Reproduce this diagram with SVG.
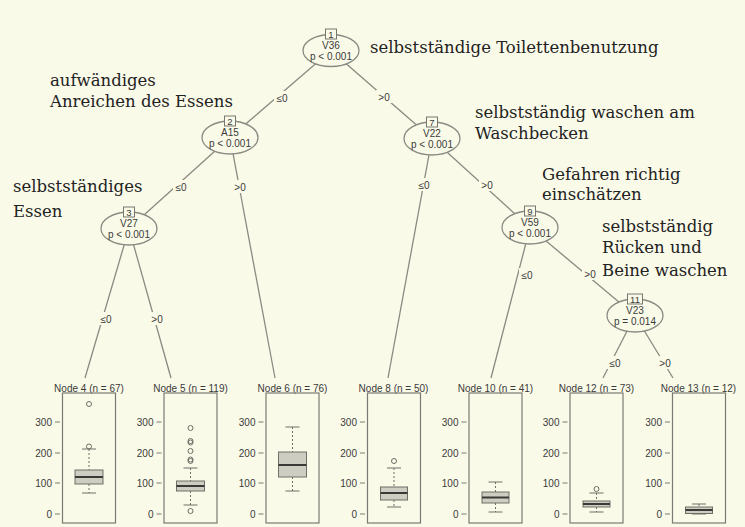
<svg xmlns="http://www.w3.org/2000/svg" width="745" height="527" viewBox="0 0 745 527">
<style>
.bg{fill:#fafae9}
.edge{stroke:#8a8a82;stroke-width:1.3;fill:none}
.ell{fill:#fafae9;stroke:#8a8a82;stroke-width:1.3}
.idb{fill:#fafae9;stroke:#777770;stroke-width:1}
.t{font-family:"Liberation Sans",Arial,sans-serif;font-size:10px;fill:#3a3a3a;text-anchor:middle}
.tn{font-family:"Liberation Sans",Arial,sans-serif;font-size:9.5px;fill:#3a3a3a;text-anchor:middle}
.ax{font-family:"Liberation Sans",Arial,sans-serif;font-size:10px;fill:#3a3a3a;text-anchor:end}
.lbl{fill:#fafae9}
.ann{font-family:"DejaVu Serif",serif;font-size:16.5px;fill:#222222}
.panel{fill:none;stroke:#7a7a72;stroke-width:1.2}
.tick{stroke:#7a7a72;stroke-width:1}
.box{fill:#cdcdc2;stroke:#6e6e66;stroke-width:1}
.med{stroke:#3a3a36;stroke-width:2}
.wh{stroke:#6e6e66;stroke-width:1;stroke-dasharray:2,2}
.cap{stroke:#6e6e66;stroke-width:1}
.out{fill:none;stroke:#6e6e66;stroke-width:1}
</style>
<rect class="bg" x="0" y="0" width="745" height="527"/>

<g id="connectors">
<line class="edge" x1="331" y1="50.5" x2="230" y2="137.5"/>
<line class="edge" x1="331" y1="50.5" x2="432" y2="138.5"/>
<line class="edge" x1="230" y1="137.5" x2="129" y2="228.5"/>
<line class="edge" x1="230" y1="137.5" x2="275" y2="378"/>
<line class="edge" x1="129" y1="228.5" x2="85" y2="378"/>
<line class="edge" x1="129" y1="228.5" x2="171" y2="378"/>
<line class="edge" x1="432" y1="138.5" x2="388" y2="378"/>
<line class="edge" x1="432" y1="138.5" x2="530" y2="227.5"/>
<line class="edge" x1="530" y1="227.5" x2="491" y2="378"/>
<line class="edge" x1="530" y1="227.5" x2="635" y2="315.5"/>
<line class="edge" x1="635" y1="315.5" x2="603" y2="378"/>
<line class="edge" x1="635" y1="315.5" x2="673" y2="378"/>
<g id="edge-labels">
<rect class="lbl" x="274" y="91" width="16" height="13"/><text class="t" x="282" y="101.5">≤0</text>
<rect class="lbl" x="376" y="90" width="16" height="13"/><text class="t" x="384" y="100.5">&gt;0</text>
<rect class="lbl" x="173" y="180" width="16" height="13"/><text class="t" x="181" y="190.5">≤0</text>
<rect class="lbl" x="232" y="180" width="16" height="13"/><text class="t" x="240" y="190.5">&gt;0</text>
<rect class="lbl" x="98" y="312" width="16" height="13"/><text class="t" x="106" y="322.5">≤0</text>
<rect class="lbl" x="149" y="312" width="16" height="13"/><text class="t" x="157" y="322.5">&gt;0</text>
<rect class="lbl" x="416" y="178" width="16" height="13"/><text class="t" x="424" y="188.5">≤0</text>
<rect class="lbl" x="479" y="178" width="16" height="13"/><text class="t" x="487" y="188.5">&gt;0</text>
<rect class="lbl" x="519" y="268" width="16" height="13"/><text class="t" x="527" y="278.5">≤0</text>
<rect class="lbl" x="582" y="267" width="16" height="13"/><text class="t" x="590" y="277.5">&gt;0</text>
<rect class="lbl" x="607" y="356" width="16" height="13"/><text class="t" x="615" y="366.5">≤0</text>
<rect class="lbl" x="657" y="356" width="16" height="13"/><text class="t" x="665" y="366.5">&gt;0</text>
</g>
</g>

<g id="node1">
<ellipse class="ell" cx="331" cy="50.5" rx="28" ry="16"/>
<rect class="idb" x="325.5" y="29" width="11" height="10"/>
<text class="tn" x="331" y="37.5">1</text>
<text class="t" x="331" y="49">V36</text>
<text class="t" x="331" y="60">p &lt; 0.001</text>
</g>
<g id="node2">
<ellipse class="ell" cx="230" cy="137.5" rx="28" ry="16.5"/>
<rect class="idb" x="224.5" y="116" width="11" height="10"/>
<text class="tn" x="230" y="124.5">2</text>
<text class="t" x="230" y="136">A15</text>
<text class="t" x="230" y="147">p &lt; 0.001</text>
</g>
<g id="node3">
<ellipse class="ell" cx="129" cy="228.5" rx="28" ry="16.5"/>
<rect class="idb" x="123.5" y="207" width="11" height="10"/>
<text class="tn" x="129" y="215.5">3</text>
<text class="t" x="129" y="227">V27</text>
<text class="t" x="129" y="238">p &lt; 0.001</text>
</g>
<g id="node7">
<ellipse class="ell" cx="432" cy="138.5" rx="28" ry="16.5"/>
<rect class="idb" x="426.5" y="117" width="11" height="10"/>
<text class="tn" x="432" y="125.5">7</text>
<text class="t" x="432" y="137">V22</text>
<text class="t" x="432" y="148">p &lt; 0.001</text>
</g>
<g id="node9">
<ellipse class="ell" cx="530" cy="227.5" rx="28" ry="16.5"/>
<rect class="idb" x="524.5" y="206" width="11" height="10"/>
<text class="tn" x="530" y="214.5">9</text>
<text class="t" x="530" y="226">V59</text>
<text class="t" x="530" y="237">p &lt; 0.001</text>
</g>
<g id="node11">
<ellipse class="ell" cx="635" cy="315.5" rx="28" ry="16.5"/>
<rect class="idb" x="627.5" y="294" width="15" height="10"/>
<text class="tn" x="635" y="302.5">11</text>
<text class="t" x="635" y="314">V23</text>
<text class="t" x="635" y="325">p = 0.014</text>
</g>

<g id="node4">
<text class="t" x="89" y="391.5">Node 4 (n = 67)</text>
<rect class="panel" x="62.5" y="393" width="53" height="130"/>
<g class="tick"><line x1="55" y1="422" x2="60" y2="422"/><line x1="55" y1="453" x2="60" y2="453"/><line x1="55" y1="483" x2="60" y2="483"/><line x1="55" y1="514" x2="60" y2="514"/></g>
<text class="ax" x="52" y="425.5">300</text><text class="ax" x="52" y="456.5">200</text><text class="ax" x="52" y="486.5">100</text><text class="ax" x="52" y="517.5">0</text>
<line class="wh" x1="89" y1="449" x2="89" y2="470"/><line class="wh" x1="89" y1="484" x2="89" y2="493"/>
<line class="cap" x1="82" y1="449" x2="96" y2="449"/><line class="cap" x1="82" y1="493" x2="96" y2="493"/>
<rect class="box" x="75" y="470" width="28" height="14"/><line class="med" x1="75" y1="477" x2="103" y2="477"/>
<circle class="out" cx="89" cy="404" r="2.5"/><circle class="out" cx="89" cy="446.5" r="2.5"/>
</g>
<g id="node5">
<text class="t" x="190.5" y="391.5">Node 5 (n = 119)</text>
<rect class="panel" x="164" y="393" width="53" height="130"/>
<g class="tick"><line x1="156.5" y1="422" x2="161.5" y2="422"/><line x1="156.5" y1="453" x2="161.5" y2="453"/><line x1="156.5" y1="483" x2="161.5" y2="483"/><line x1="156.5" y1="514" x2="161.5" y2="514"/></g>
<text class="ax" x="153.5" y="425.5">300</text><text class="ax" x="153.5" y="456.5">200</text><text class="ax" x="153.5" y="486.5">100</text><text class="ax" x="153.5" y="517.5">0</text>
<line class="wh" x1="190.5" y1="468" x2="190.5" y2="481"/><line class="wh" x1="190.5" y1="491" x2="190.5" y2="505"/>
<line class="cap" x1="183.5" y1="468" x2="197.5" y2="468"/><line class="cap" x1="183.5" y1="505" x2="197.5" y2="505"/>
<rect class="box" x="176.5" y="481" width="28" height="10"/><line class="med" x1="176.5" y1="486" x2="204.5" y2="486"/>
<circle class="out" cx="190.5" cy="428" r="2.5"/><circle class="out" cx="190.5" cy="441" r="2.5"/><circle class="out" cx="190.5" cy="442.5" r="2.5"/><circle class="out" cx="190.5" cy="451" r="2.5"/><circle class="out" cx="190.5" cy="459.5" r="2.5"/><circle class="out" cx="190.5" cy="461" r="2.5"/><circle class="out" cx="190.5" cy="511" r="2.5"/>
</g>
<g id="node6">
<text class="t" x="292.5" y="391.5">Node 6 (n = 76)</text>
<rect class="panel" x="266" y="393" width="53" height="130"/>
<g class="tick"><line x1="258.5" y1="422" x2="263.5" y2="422"/><line x1="258.5" y1="453" x2="263.5" y2="453"/><line x1="258.5" y1="483" x2="263.5" y2="483"/><line x1="258.5" y1="514" x2="263.5" y2="514"/></g>
<text class="ax" x="255.5" y="425.5">300</text><text class="ax" x="255.5" y="456.5">200</text><text class="ax" x="255.5" y="486.5">100</text><text class="ax" x="255.5" y="517.5">0</text>
<line class="wh" x1="292.5" y1="427" x2="292.5" y2="452"/><line class="wh" x1="292.5" y1="477" x2="292.5" y2="491"/>
<line class="cap" x1="285.5" y1="427" x2="299.5" y2="427"/><line class="cap" x1="285.5" y1="491" x2="299.5" y2="491"/>
<rect class="box" x="278.5" y="452" width="28" height="25"/><line class="med" x1="278.5" y1="465" x2="306.5" y2="465"/>
</g>
<g id="node8">
<text class="t" x="393.5" y="391.5">Node 8 (n = 50)</text>
<rect class="panel" x="367.5" y="393" width="53" height="130"/>
<g class="tick"><line x1="360" y1="422" x2="365" y2="422"/><line x1="360" y1="453" x2="365" y2="453"/><line x1="360" y1="483" x2="365" y2="483"/><line x1="360" y1="514" x2="365" y2="514"/></g>
<text class="ax" x="357" y="425.5">300</text><text class="ax" x="357" y="456.5">200</text><text class="ax" x="357" y="486.5">100</text><text class="ax" x="357" y="517.5">0</text>
<line class="wh" x1="394" y1="468" x2="394" y2="487"/><line class="wh" x1="394" y1="500" x2="394" y2="507"/>
<line class="cap" x1="387" y1="468" x2="401" y2="468"/><line class="cap" x1="387" y1="507" x2="401" y2="507"/>
<rect class="box" x="380.5" y="487" width="27" height="13"/><line class="med" x1="380.5" y1="493" x2="407.5" y2="493"/>
<circle class="out" cx="394" cy="461" r="2.5"/>
</g>
<g id="node10">
<text class="t" x="495.5" y="391.5">Node 10 (n = 41)</text>
<rect class="panel" x="469" y="393" width="53" height="130"/>
<g class="tick"><line x1="461.5" y1="422" x2="466.5" y2="422"/><line x1="461.5" y1="453" x2="466.5" y2="453"/><line x1="461.5" y1="483" x2="466.5" y2="483"/><line x1="461.5" y1="514" x2="466.5" y2="514"/></g>
<text class="ax" x="458.5" y="425.5">300</text><text class="ax" x="458.5" y="456.5">200</text><text class="ax" x="458.5" y="486.5">100</text><text class="ax" x="458.5" y="517.5">0</text>
<line class="wh" x1="495.5" y1="482" x2="495.5" y2="492"/><line class="wh" x1="495.5" y1="503" x2="495.5" y2="512"/>
<line class="cap" x1="488.5" y1="482" x2="502.5" y2="482"/><line class="cap" x1="488.5" y1="512" x2="502.5" y2="512"/>
<rect class="box" x="482" y="492" width="27" height="11"/><line class="med" x1="482" y1="497.5" x2="509" y2="497.5"/>
</g>
<g id="node12">
<text class="t" x="596.5" y="391.5">Node 12 (n = 73)</text>
<rect class="panel" x="570" y="393" width="53" height="130"/>
<g class="tick"><line x1="562.5" y1="422" x2="567.5" y2="422"/><line x1="562.5" y1="453" x2="567.5" y2="453"/><line x1="562.5" y1="483" x2="567.5" y2="483"/><line x1="562.5" y1="514" x2="567.5" y2="514"/></g>
<text class="ax" x="559.5" y="425.5">300</text><text class="ax" x="559.5" y="456.5">200</text><text class="ax" x="559.5" y="486.5">100</text><text class="ax" x="559.5" y="517.5">0</text>
<line class="wh" x1="596.5" y1="493" x2="596.5" y2="501"/><line class="wh" x1="596.5" y1="507" x2="596.5" y2="512"/>
<line class="cap" x1="589.5" y1="493" x2="603.5" y2="493"/><line class="cap" x1="589.5" y1="512" x2="603.5" y2="512"/>
<rect class="box" x="583" y="501" width="27" height="6"/><line class="med" x1="583" y1="504" x2="610" y2="504"/>
<circle class="out" cx="596.5" cy="489" r="2.5"/>
</g>
<g id="node13">
<text class="t" x="698.5" y="391.5">Node 13 (n = 12)</text>
<rect class="panel" x="672.5" y="393" width="53" height="130"/>
<g class="tick"><line x1="665" y1="422" x2="670" y2="422"/><line x1="665" y1="453" x2="670" y2="453"/><line x1="665" y1="483" x2="670" y2="483"/><line x1="665" y1="514" x2="670" y2="514"/></g>
<text class="ax" x="662" y="425.5">300</text><text class="ax" x="662" y="456.5">200</text><text class="ax" x="662" y="486.5">100</text><text class="ax" x="662" y="517.5">0</text>
<line class="wh" x1="699" y1="504" x2="699" y2="507"/>
<line class="cap" x1="692" y1="504" x2="706" y2="504"/><line class="cap" x1="692" y1="514" x2="706" y2="514"/>
<rect class="box" x="685.5" y="507" width="27" height="6.5"/><line class="med" x1="685.5" y1="510" x2="712.5" y2="510"/>
</g>

<g id="annotations">
<text class="ann" x="370" y="53">selbstständige Toilettenbenutzung</text>
<text class="ann" x="50" y="86">aufwändiges</text>
<text class="ann" x="50" y="107">Anreichen des Essens</text>
<text class="ann" x="13" y="192">selbstständiges</text>
<text class="ann" x="13" y="217">Essen</text>
<text class="ann" x="475" y="118">selbstständig waschen am</text>
<text class="ann" x="475" y="139">Waschbecken</text>
<text class="ann" x="542" y="180">Gefahren richtig</text>
<text class="ann" x="542" y="200">einschätzen</text>
<text class="ann" x="602" y="232">selbstständig</text>
<text class="ann" x="602" y="253">Rücken und</text>
<text class="ann" x="602" y="276">Beine waschen</text>
</g>
</svg>
